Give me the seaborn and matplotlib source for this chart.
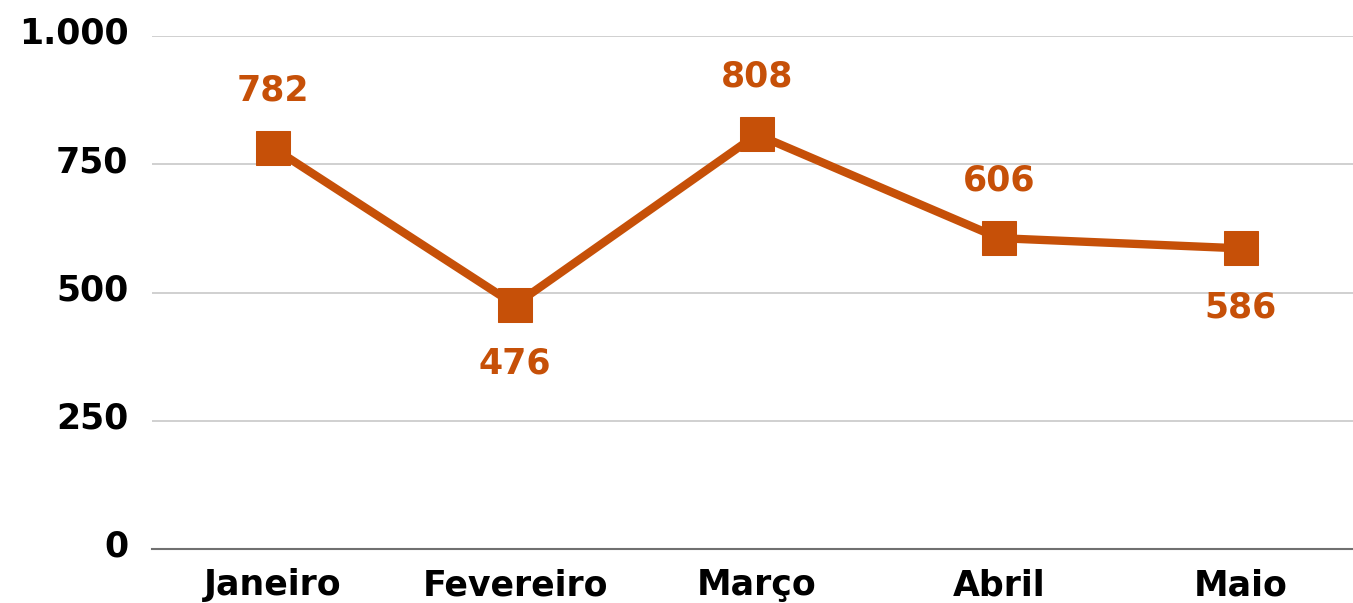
import matplotlib
matplotlib.use("Agg")
import matplotlib.pyplot as plt
import matplotlib.transforms as mtransforms
import seaborn as sns
import pandas as pd

meses = ["Janeiro", "Fevereiro", "Março", "Abril", "Maio"]
valores = [782, 476, 808, 606, 586]
y_ticks = [0, 250, 500, 750, 1000]
y_labels = ["0", "250", "500", "750", "1.000"]
# where the value label goes: above or below the point
posicao = ["above", "below", "above", "above", "below"]

cor = "#C65008"

sns.set_theme(style="white")
plt.rcParams["font.family"] = ["DejaVu Sans"]

df = pd.DataFrame({"mes": meses, "valor": valores})

fig = plt.figure(figsize=(13.53, 6.03), dpi=100)
ax = fig.add_axes([152 / 1353, 54 / 603, 1210 / 1353, 513 / 603])

sns.lineplot(data=df, x="mes", y="valor", ax=ax, color=cor, linewidth=6,
             marker="s", markersize=25, markeredgecolor=cor, sort=False)

for i, (v, p) in enumerate(zip(valores, posicao)):
    off = 44 if p == "above" else -40
    ax.annotate(str(v), (i, v), xytext=(0, off), textcoords="offset points",
                ha="center", va="center_baseline", fontsize=25,
                fontweight="bold", color=cor)

ax.set_xlim(-0.5, 4.5)
ax.set_ylim(0, 1000)
ax.set_yticks(y_ticks)
ax.set_yticklabels(y_labels)
ax.yaxis.grid(True, color="#C8C8C8", linewidth=1.2)
ax.set_axisbelow(True)
ax.tick_params(axis="y", labelsize=25, length=0, pad=17)
ax.tick_params(axis="x", labelsize=25, length=0, pad=14)
# nudge y labels up a little, like the original
shift = mtransforms.ScaledTranslation(0, 4 / 72, fig.dpi_scale_trans)
for lab in ax.get_yticklabels():
    lab.set_transform(lab.get_transform() + shift)
for lab in ax.get_xticklabels() + ax.get_yticklabels():
    lab.set_fontweight("bold")
    lab.set_color("black")
for s in ["top", "right", "left"]:
    ax.spines[s].set_visible(False)
ax.spines["bottom"].set_color("#707070")
ax.spines["bottom"].set_linewidth(1.5)
ax.set_xlabel("")
ax.set_ylabel("")

fig.savefig("out.png", dpi=100)
